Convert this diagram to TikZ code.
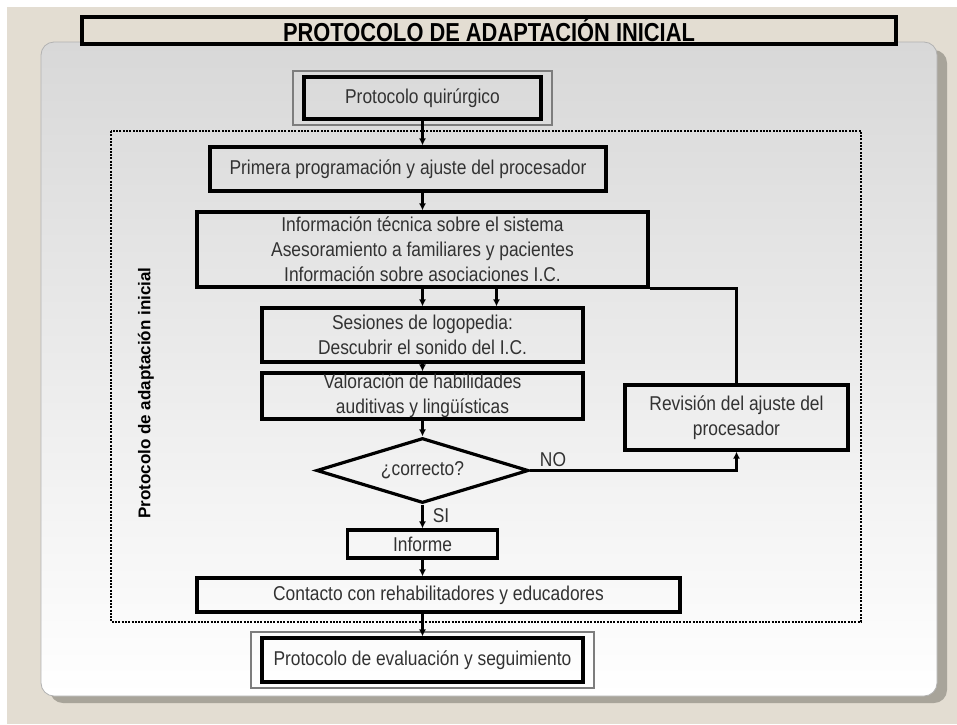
\documentclass[tikz,border=0pt]{standalone}
\usepackage{fontspec}
\setmainfont{Liberation Sans}
\newfontfamily\narrowfont{Liberation Sans}[FakeStretch=0.87]
\newfontfamily\titlefont{Liberation Sans}[FakeStretch=0.84]
\usetikzlibrary{arrows.meta,shapes.geometric,fit}
\definecolor{paperbeige}{RGB}{227,221,210}
\definecolor{panelgray}{RGB}{216,216,216}
\definecolor{shadowgray}{RGB}{168,164,154}
\definecolor{inkgray}{RGB}{50,50,50}
\definecolor{framegray}{RGB}{125,125,125}

\begin{document}
\begin{tikzpicture}[x=1pt, y=-1pt,
    box/.style={draw=black, line width=3.2pt, inner sep=0pt, align=center,
        text=inkgray, font=\narrowfont\fontsize{20}{25}\selectfont},
    outerframe/.style={draw=framegray, line width=1.3pt, inner xsep=9.5pt, inner ysep=4.5pt},
    decision/.style={box, diamond, aspect=3.2},
    flow/.style={line width=2.6pt, -{Latex[length=7pt,width=7pt]}},
    link/.style={line width=2.6pt},
    dotframe/.style={line width=2.3pt, dash pattern=on 2pt off 1.3pt},
    tag/.style={text=inkgray, font=\narrowfont\fontsize{20}{25}\selectfont}]
    \useasboundingbox (0,0) rectangle (957,724);

    % Sheet, shadow and panel
    \fill[paperbeige] (0,0) rectangle (957,724);
    \fill[white] (0,0) rectangle (957,7);
    \fill[white] (0,0) rectangle (7,724);
    \fill[shadowgray, rounded corners=13pt] (50,50) rectangle (947,703);
    \shade[top color=panelgray, bottom color=white, draw=gray!60, line width=0.8pt,
        rounded corners=13pt] (41,42) rectangle (937,696);

    % Title
    \node[draw=black, line width=3.2pt, fill=paperbeige, minimum width=814pt,
        minimum height=27pt, inner sep=0pt, text height=21pt, text depth=0pt,
        font=\titlefont\bfseries\fontsize{26}{30}\selectfont] (title) at (489,30.5)
        {PROTOCOLO DE ADAPTACIÓN INICIAL};

    % Dotted block
    \draw[dotframe] (111,131) rectangle (861,622);
    \node[rotate=90, font=\bfseries\fontsize{17}{20}\selectfont] (side) at (146,393)
        {Protocolo de adaptación inicial};

    % Steps
    \node[box, minimum width=237pt, minimum height=42pt] (surg) at (422.5,98) {Protocolo quirúrgico};
    \node[outerframe, fit=(surg)] (surgframe) {};
    \node[box, minimum width=396pt, minimum height=44pt] (prog) at (408,169)
        {Primera programación y ajuste del procesador};
    \node[box, minimum width=451pt, minimum height=75pt] (info) at (422.5,249.5)
        {Información técnica sobre el sistema\\Asesoramiento a familiares y pacientes\\Información sobre asociaciones I.C.};
    \node[box, minimum width=321pt, minimum height=54pt] (logo) at (422.5,335)
        {Sesiones de logopedia:\\Descubrir el sonido del I.C.};
    \node[box, minimum width=321pt, minimum height=46pt] (skills) at (422.5,396)
        {Valoración de habilidades\\auditivas y lingüísticas};
    \node[decision, minimum width=212pt, minimum height=65pt] (check) at (422.5,470.5) {¿correcto?};
    \node[box, minimum width=223pt, minimum height=65pt] (review) at (736.5,417.5)
        {Revisión del ajuste del\\procesador};
    \node[box, minimum width=150pt, minimum height=28pt] (report) at (422.5,544) {Informe};
    \node[box, minimum width=483pt, minimum height=34pt] (contact) at (438.5,595)
        {Contacto con rehabilitadores y educadores};
    \node[box, minimum width=321pt, minimum height=44pt] (follow) at (422.5,660)
        {Protocolo de evaluación y seguimiento};
    \node[outerframe, fit=(follow)] (followframe) {};

    % Connectors
    \draw[flow] (surg.south) -- (surg.south |- prog.north);
    \draw[flow] (surg.south |- prog.south) -- (info.north);
    \draw[flow] (info.south -| logo.north) -- (logo.north);
    \draw[flow] ([xshift=74pt]logo.north |- info.south) -- ([xshift=74pt]logo.north);
    \draw[flow] (logo.south) -- (skills.north);
    \draw[flow] (skills.south) -- (check.north);
    \draw[flow] (check.east) -| (review.south);
    \draw[link] (review.north) |- (info.south east);
    \draw[flow] (check.south) -- (report.north);
    \draw[flow] (report.south) -- (report.south |- contact.north);
    \draw[flow] (report.south |- contact.south) -- (follow.north);

    % Branch labels
    \node[tag] (no) at (553,460) {NO};
    \node[tag] (yes) at (441,516) {SI};
\end{tikzpicture}
\end{document}
